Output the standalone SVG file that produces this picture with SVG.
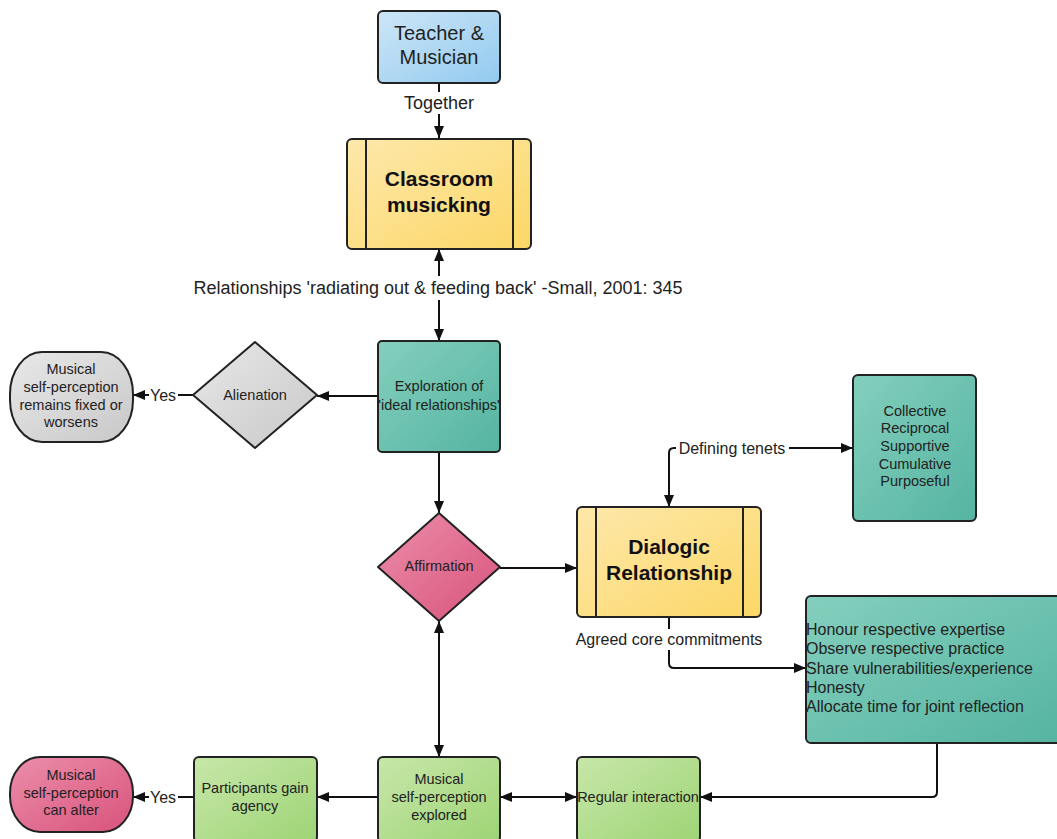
<svg xmlns="http://www.w3.org/2000/svg" width="1057" height="839" viewBox="0 0 1057 839">
<style>
.n{stroke:#222;stroke-width:2}
.t{font-family:"Liberation Sans",Arial,sans-serif;fill:#222;text-anchor:middle}
.s14{font-size:14.5px}
.s16{font-size:16px}
.s18{font-size:18px}
.b{font-weight:bold;font-size:21px;fill:#111}
.c{fill:none;stroke:#111;stroke-width:2}
.lbl{fill:#fff}
</style>
<defs>
<linearGradient id="gBlue" x1="0" y1="0" x2="1" y2="1"><stop offset="0" stop-color="#cde6f7"/><stop offset="1" stop-color="#92caef"/></linearGradient>
<linearGradient id="gYel" x1="0" y1="0" x2="1" y2="1"><stop offset="0" stop-color="#fee8ab"/><stop offset="1" stop-color="#fbd766"/></linearGradient>
<linearGradient id="gTeal" x1="0" y1="0" x2="1" y2="1"><stop offset="0" stop-color="#84cfbd"/><stop offset="1" stop-color="#55b4a1"/></linearGradient>
<linearGradient id="gGray" x1="0" y1="0" x2="1" y2="1"><stop offset="0" stop-color="#e8e8e8"/><stop offset="1" stop-color="#c8c8c8"/></linearGradient>
<linearGradient id="gPink" x1="0" y1="0" x2="1" y2="1"><stop offset="0" stop-color="#ec8eab"/><stop offset="1" stop-color="#d8537b"/></linearGradient>
<linearGradient id="gGreen" x1="0" y1="0" x2="1" y2="1"><stop offset="0" stop-color="#c7e7a9"/><stop offset="1" stop-color="#9ed475"/></linearGradient>
<marker id="ah" viewBox="0 0 12 10" refX="12" refY="5" markerWidth="12" markerHeight="10" orient="auto-start-reverse" markerUnits="userSpaceOnUse"><path d="M0,0 L12,5 L0,10 z" fill="#111"/></marker>
</defs>

<g id="connectors">
<path class="c" d="M439,83 V138" marker-end="url(#ah)"/>
<rect class="lbl" x="400" y="92" width="78" height="22"/>
<text class="t s18" x="439" y="109">Together</text>

<path class="c" d="M439,249 V341" marker-start="url(#ah)" marker-end="url(#ah)"/>
<rect class="lbl" x="190" y="276" width="498" height="24"/>
<text class="t s18" x="438" y="294">Relationships 'radiating out &amp; feeding back' -Small, 2001: 345</text>

<path class="c" d="M378,396 H317" marker-end="url(#ah)"/>
<path class="c" d="M193,395 H133" marker-end="url(#ah)"/>
<rect class="lbl" x="149" y="385" width="29" height="20"/>
<text class="t s16" x="163" y="401">Yes</text>

<path class="c" d="M439,452 V513" marker-end="url(#ah)"/>
<path class="c" d="M500,568 H577" marker-end="url(#ah)"/>

<path class="c" d="M669,507 V453 Q669,448 674,448 H853" marker-start="url(#ah)" marker-end="url(#ah)"/>
<rect class="lbl" x="676" y="438" width="113" height="20"/>
<text class="t s16" x="732" y="454">Defining tenets</text>

<path class="c" d="M669,617 V663 Q669,668 674,668 H806" marker-end="url(#ah)"/>
<rect class="lbl" x="572" y="629" width="194" height="21"/>
<text class="t s16" x="669" y="645">Agreed core commitments</text>

<path class="c" d="M937,743 V792 Q937,797 932,797 H700" marker-end="url(#ah)"/>
<path class="c" d="M439,621 V757" marker-start="url(#ah)" marker-end="url(#ah)"/>
<path class="c" d="M500,797 H577" marker-start="url(#ah)" marker-end="url(#ah)"/>
<path class="c" d="M378,797 H317" marker-end="url(#ah)"/>
<path class="c" d="M194,797 H133" marker-end="url(#ah)"/>
<rect class="lbl" x="149" y="787" width="29" height="20"/>
<text class="t s16" x="163" y="803">Yes</text>
</g>

<g id="teacher">
<rect class="n" x="378" y="11" width="122" height="72" rx="5" fill="url(#gBlue)"/>
<text class="t" font-size="20" x="439" y="40">Teacher &amp;</text>
<text class="t" font-size="20" x="439" y="64">Musician</text>
</g>

<g id="classroom">
<rect class="n" x="347" y="139" width="184" height="110" rx="5" fill="url(#gYel)"/>
<path class="n" d="M366,139 V249 M513,139 V249"/>
<text class="t b" x="439" y="186">Classroom</text>
<text class="t b" x="439" y="212">musicking</text>
</g>

<g id="exploration">
<rect class="n" x="378" y="341" width="122" height="111" rx="4" fill="url(#gTeal)"/>
<text class="t s14" x="439" y="391">Exploration of</text>
<text class="t s14" x="439" y="410">'ideal relationships'</text>
</g>

<g id="alienation">
<path class="n" d="M255,342 L317,395 L255,448 L193,395 Z" stroke-linejoin="round" fill="url(#gGray)"/>
<text class="t s14" x="255" y="400">Alienation</text>
</g>

<g id="fixed">
<rect class="n" x="10" y="352" width="123" height="90" rx="32" ry="42" fill="url(#gGray)"/>
<text class="t s14" x="71" y="374">Musical</text>
<text class="t s14" x="71" y="392">self-perception</text>
<text class="t s14" x="71" y="410">remains fixed or</text>
<text class="t s14" x="71" y="427">worsens</text>
</g>

<g id="affirmation">
<path class="n" d="M439,513 L500,567 L439,621 L378,567 Z" stroke-linejoin="round" fill="url(#gPink)"/>
<text class="t s14" x="439" y="571">Affirmation</text>
</g>

<g id="dialogic">
<rect class="n" x="577" y="507" width="184" height="110" rx="5" fill="url(#gYel)"/>
<path class="n" d="M596,507 V617 M743,507 V617"/>
<text class="t b" x="669" y="554">Dialogic</text>
<text class="t b" x="669" y="580">Relationship</text>
</g>

<g id="tenets">
<rect class="n" x="853" y="375" width="123" height="146" rx="5" fill="url(#gTeal)"/>
<text class="t s14" x="915" y="416">Collective</text>
<text class="t s14" x="915" y="433">Reciprocal</text>
<text class="t s14" x="915" y="451">Supportive</text>
<text class="t s14" x="915" y="469">Cumulative</text>
<text class="t s14" x="915" y="486">Purposeful</text>
</g>

<g id="commitments">
<rect class="n" x="806" y="596" width="260" height="147" rx="5" fill="url(#gTeal)"/>
<text class="t s16" style="text-anchor:start" x="806" y="635">Honour respective expertise</text>
<text class="t s16" style="text-anchor:start" x="806" y="654">Observe respective practice</text>
<text class="t s16" style="text-anchor:start" x="806" y="674">Share vulnerabilities/experience</text>
<text class="t s16" style="text-anchor:start" x="806" y="693">Honesty</text>
<text class="t s16" style="text-anchor:start" x="806" y="712">Allocate time for joint reflection</text>
</g>

<g id="regular">
<rect class="n" x="577" y="757" width="123" height="85" rx="5" fill="url(#gGreen)"/>
<text class="t s14" x="638" y="802">Regular interaction</text>
</g>

<g id="explored">
<rect class="n" x="378" y="757" width="122" height="85" rx="5" fill="url(#gGreen)"/>
<text class="t s14" x="439" y="784">Musical</text>
<text class="t s14" x="439" y="802">self-perception</text>
<text class="t s14" x="439" y="820">explored</text>
</g>

<g id="agency">
<rect class="n" x="194" y="757" width="123" height="85" rx="5" fill="url(#gGreen)"/>
<text class="t s14" x="255" y="793">Participants gain</text>
<text class="t s14" x="255" y="811">agency</text>
</g>

<g id="alter">
<rect class="n" x="10" y="757" width="123" height="75" rx="30" ry="36" fill="url(#gPink)"/>
<text class="t s14" x="71" y="780">Musical</text>
<text class="t s14" x="71" y="798">self-perception</text>
<text class="t s14" x="71" y="815">can alter</text>
</g>
</svg>
